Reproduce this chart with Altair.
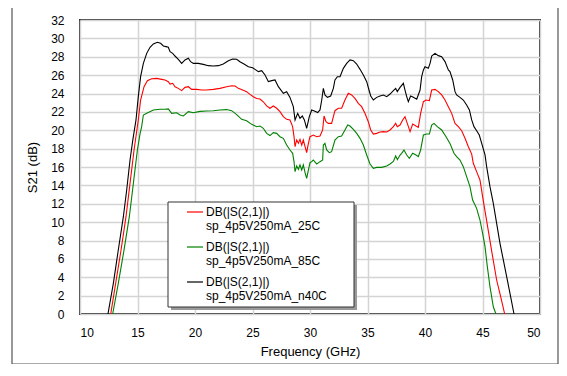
import altair as alt
import pandas as pd

FONT = "Liberation Sans"

# ---------------- data ----------------
f_n40 = [12.43, 12.9, 13.33, 13.77, 14.06, 14.35, 14.6, 14.87, 15.07, 15.27, 15.51, 15.80, 16.09, 16.38, 16.72, 17.01,
         17.25, 17.48, 17.68, 17.83, 18.06, 18.26, 18.55, 18.84, 19.13, 19.42, 19.62, 19.86, 20.29, 20.72, 21.16, 21.59,
         22.03, 22.46, 22.90, 23.28, 23.62, 23.91, 24.26, 24.64, 25.01, 25.22, 25.51, 25.80, 26.09, 26.38, 26.67, 26.96,
         27.25, 27.68, 27.97, 28.26, 28.55, 28.70, 28.93, 29.13, 29.33, 29.51, 29.71, 29.94, 30.15, 30.38, 30.67, 30.87,
         31.02, 31.16, 31.30, 31.51, 31.80, 32.03, 32.17, 32.38, 32.61, 32.90, 33.19, 33.48, 33.77, 34.06, 34.35, 34.64,
         34.93, 35.13, 35.28, 35.51, 35.80, 36.09, 36.38, 36.67, 36.96, 37.25, 37.45, 37.59, 37.83, 38.12, 38.26, 38.41,
         38.55, 38.75, 38.99, 39.28, 39.57, 39.71, 39.86, 40.00, 40.29, 40.44, 40.58, 40.87, 41.16, 41.45, 41.74, 42.03,
         42.17, 42.41, 42.61, 42.75, 43.04, 43.33, 43.62, 43.86, 44.06, 44.26, 44.49, 44.72, 44.93, 45.22, 45.36, 45.65,
         45.94, 46.23, 46.52, 46.81, 47.10, 47.39, 47.74]
db_n40 = [0, 3.34, 6.97, 10.59, 13.5, 16.76, 19.0, 21.12, 23.66, 25.83, 27.28, 28.37, 29.03, 29.39, 29.57, 29.46,
          29.17, 29.10, 29.03, 28.55, 28.37, 28.08, 27.72, 27.28, 27.65, 27.83, 27.46, 27.28, 27.28, 27.17, 27.03, 27.00,
          27.03, 27.21, 27.57, 27.75, 27.72, 27.46, 27.21, 26.92, 26.80, 26.63, 26.38, 26.49, 26.01, 25.29, 25.40, 25.47,
          24.74, 24.02, 24.20, 23.58, 22.57, 21.12, 21.84, 21.30, 21.55, 21.12, 20.21, 21.48, 22.21, 22.10, 21.92, 22.21,
          23.29, 24.56, 23.84, 23.58, 23.73, 24.56, 25.47, 25.83, 25.83, 26.74, 27.28, 27.65, 27.57, 27.21, 26.63, 26.01,
          25.29, 24.38, 23.73, 23.29, 23.58, 23.73, 23.84, 23.66, 23.94, 24.31, 24.56, 24.20, 24.67, 25.11, 24.38, 23.66,
          23.11, 23.73, 23.58, 23.37, 24.38, 25.83, 26.56, 26.92, 26.74, 27.28, 28.08, 28.37, 28.12, 28.01, 27.47, 26.56,
          26.38, 25.47, 24.20, 23.84, 23.58, 23.29, 22.75, 22.21, 21.12, 20.39, 19.95, 19.48, 18.57, 17.31, 16.04, 13.86,
          12.05, 9.87, 7.69, 5.88, 4.06, 2.25, 0]

f_25 = [12.67, 13.10, 13.57, 14.0, 14.35, 14.70, 15.07, 15.27, 15.57, 15.86, 16.23, 16.67, 17.10, 17.39, 17.68, 17.83,
        18.06, 18.26, 18.55, 18.84, 19.13, 19.42, 19.71, 20.14, 20.58, 21.01, 21.59, 22.17, 22.75, 23.19, 23.48, 23.77,
        24.14, 24.49, 24.78, 25.07, 25.36, 25.65, 25.94, 26.23, 26.52, 26.81, 27.10, 27.39, 27.68, 27.97, 28.26, 28.49,
        28.61, 28.70, 28.84, 28.99, 29.13, 29.28, 29.42, 29.57, 29.71, 29.86, 30.00, 30.29, 30.58, 30.87, 31.10, 31.22,
        31.39, 31.59, 31.88, 32.17, 32.46, 32.75, 33.04, 33.33, 33.62, 33.91, 34.20, 34.49, 34.78, 35.07, 35.28, 35.51,
        35.80, 36.09, 36.38, 36.67, 36.96, 37.25, 37.45, 37.59, 37.83, 38.06, 38.26, 38.46, 38.70, 38.93, 39.22, 39.42,
        39.62, 39.86, 40.09, 40.38, 40.58, 40.87, 41.16, 41.45, 41.74, 42.03, 42.32, 42.61, 42.90, 43.19, 43.48, 43.77,
        44.06, 44.20, 44.55, 44.78, 45.01, 45.30, 45.59, 45.88, 46.23, 46.58, 46.93]
db_25 = [0, 3.34, 6.97, 10.59, 14.22, 17.85, 21.12, 23.29, 24.74, 25.40, 25.61, 25.65, 25.54, 25.47, 25.29, 25.03,
         25.11, 24.74, 24.56, 24.31, 24.67, 24.74, 24.45, 24.45, 24.38, 24.38, 24.45, 24.56, 24.74, 24.85, 24.82, 24.56,
         24.38, 24.20, 23.90, 23.65, 23.45, 23.40, 23.10, 22.65, 22.39, 22.64, 22.39, 22.02, 21.48, 21.19, 21.12, 20.39,
         19.30, 18.21, 18.94, 18.58, 19.01, 18.39, 18.94, 18.21, 17.56, 18.58, 19.30, 19.48, 19.30, 19.37, 20.03, 21.55,
         20.93, 20.75, 20.75, 22.13, 22.39, 22.39, 23.29, 24.02, 23.84, 23.47, 22.93, 22.57, 21.84, 20.93, 20.03, 19.59,
         19.66, 19.81, 19.85, 19.81, 20.03, 20.39, 20.75, 20.39, 20.57, 21.12, 21.48, 20.75, 19.85, 20.68, 20.46, 20.32,
         21.84, 23.11, 23.29, 23.22, 24.38, 24.45, 24.20, 23.84, 23.29, 22.57, 21.84, 20.75, 20.39, 19.95, 19.12, 18.21,
         17.40, 16.40, 15.31, 14.59, 12.77, 10.59, 8.42, 6.24, 3.70, 1.89, 0]

f_85 = [12.84, 13.33, 13.83, 14.29, 14.64, 14.99, 15.22, 15.36, 15.51, 15.80, 16.38, 16.96, 17.39, 17.68, 17.97, 18.41,
        18.70, 18.99, 19.42, 19.86, 20.43, 21.01, 21.59, 22.17, 22.75, 23.19, 23.62, 24.06, 24.49, 24.93, 25.36, 25.65,
        25.94, 26.23, 26.52, 26.81, 27.10, 27.39, 27.68, 27.97, 28.26, 28.49, 28.61, 28.70, 28.84, 28.99, 29.13, 29.28,
        29.42, 29.57, 29.71, 29.86, 30.00, 30.15, 30.29, 30.58, 30.87, 31.10, 31.16, 31.30, 31.45, 31.68, 31.88, 32.17,
        32.46, 32.75, 33.04, 33.28, 33.48, 33.77, 34.06, 34.35, 34.64, 34.93, 35.22, 35.51, 35.80, 36.23, 36.67, 36.96,
        37.25, 37.45, 37.60, 37.83, 37.97, 38.17, 38.41, 38.64, 38.93, 39.22, 39.42, 39.62, 39.86, 40.14, 40.38, 40.58,
        40.78, 41.07, 41.45, 41.83, 42.17, 42.52, 42.75, 43.04, 43.33, 43.62, 43.91, 44.14, 44.49, 44.78, 45.01, 45.22,
        45.42, 45.65, 45.94, 46.17]
db_85 = [0, 3.34, 6.97, 10.59, 14.22, 17.85, 19.6, 20.39, 21.66, 21.84, 22.20, 22.28, 22.28, 22.33, 21.84, 21.91,
         21.66, 21.55, 22.02, 21.91, 22.05, 22.10, 22.13, 22.20, 22.25, 22.13, 21.70, 21.19, 21.04, 20.64, 20.39, 20.46,
         20.21, 19.66, 19.42, 19.74, 19.66, 19.30, 19.12, 18.39, 17.85, 17.49, 16.58, 15.49, 16.11, 15.75, 16.22, 15.67,
         16.22, 15.38, 14.77, 15.67, 16.47, 16.58, 16.76, 16.33, 16.58, 16.76, 18.39, 18.57, 17.85, 17.56, 17.67, 18.94,
         19.30, 19.37, 20.03, 20.57, 20.46, 20.10, 19.66, 19.12, 18.39, 17.31, 16.33, 15.86, 15.96, 15.96, 16.11, 16.33,
         16.6, 17.2, 16.8, 17.3, 17.49, 17.85, 17.31, 16.94, 17.49, 17.31, 17.12, 17.85, 19.48, 19.59, 19.59, 20.57,
         20.75, 20.39, 20.03, 19.30, 18.57, 17.49, 17.12, 16.76, 16.04, 14.95, 13.86, 12.41, 11.50, 10.23, 8.78, 7.33,
         5.15, 2.97, 0.79, 0]

series_names = ["sp_4p5V250mA_25C", "sp_4p5V250mA_85C", "sp_4p5V250mA_n40C"]
series_colors = ["#ff0000", "#008000", "#000000"]
legend_title_line = "DB(|S(2,1)|)"
x_ticks = [10, 15, 20, 25, 30, 35, 40, 45, 50]
y_ticks = list(range(0, 33, 2))

frames = []
for name, fs, ds in [(series_names[0], f_25, db_25), (series_names[1], f_85, db_85), (series_names[2], f_n40, db_n40)]:
    d = pd.DataFrame({"f": fs, "db": ds})
    d["series"] = name
    d["order"] = range(len(d))
    frames.append(d)
df = pd.concat(frames, ignore_index=True)

W, H = 460, 294

x_enc = alt.X("f:Q", scale=alt.Scale(domain=[10, 50], nice=False),
              axis=alt.Axis(values=x_ticks, title="Frequency (GHz)", labelPadding=13, titlePadding=7))
y_enc = alt.Y("db:Q", scale=alt.Scale(domain=[0, 32], nice=False),
              axis=alt.Axis(values=y_ticks, title="S21 (dB)", labelPadding=16, titlePadding=11))

one = pd.DataFrame({"a": [0]})

frame = alt.Chart(one).mark_rect(
    fillOpacity=0, stroke="#555555", strokeWidth=1.2
).encode(x=alt.value(-68), x2=alt.value(478), y=alt.value(-15), y2=alt.value(344))

lines = alt.Chart(df).mark_line(strokeWidth=1.1, clip=True).encode(
    x=x_enc, y=y_enc,
    color=alt.Color("series:N", scale=alt.Scale(domain=series_names, range=series_colors), legend=None),
    order="order:Q",
    detail="series:N",
)

# legend box (drawn manually)
LX0, LX1, LY0, LY1 = 88, 274, 182, 287
shadow = alt.Chart(one).mark_rect(fill="#9a9a9a").encode(
    x=alt.value(LX0 + 3), x2=alt.value(LX1 + 3), y=alt.value(LY0 + 3), y2=alt.value(LY1 + 3))
box = alt.Chart(one).mark_rect(fill="white", stroke="#333333", strokeWidth=1).encode(
    x=alt.value(LX0), x2=alt.value(LX1), y=alt.value(LY0), y2=alt.value(LY1))

legend_layers = [shadow, box]
for i, (name, col) in enumerate(zip(series_names, series_colors)):
    yy = 192 + 35 * i
    legend_layers.append(alt.Chart(one).mark_rule(color=col, strokeWidth=1.2).encode(
        x=alt.value(107), x2=alt.value(123), y=alt.value(yy)))
    legend_layers.append(alt.Chart(one).mark_text(
        text=legend_title_line, align="left", baseline="middle", font=FONT, fontSize=12, color="black"
    ).encode(x=alt.value(126), y=alt.value(yy)))
    legend_layers.append(alt.Chart(one).mark_text(
        text=name, align="left", baseline="middle", font=FONT, fontSize=12, color="black"
    ).encode(x=alt.value(126), y=alt.value(yy + 14)))

chart = alt.layer(frame, lines, *legend_layers).properties(
    width=W, height=H,
    autosize="none",
    padding={"left": 72, "top": 12, "right": 19, "bottom": 50},
).configure_view(
    stroke="#333333", strokeWidth=2
).configure_axis(
    grid=True, gridColor="#d4d4d4", gridWidth=1.5,
    domain=False, ticks=False,
    labelFont=FONT, labelFontSize=12, labelColor="black",
    titleFont=FONT, titleFontSize=13, titleFontWeight="normal", titleColor="black",
)

chart.save("out.html", embed_options={"renderer": "svg", "actions": False})
